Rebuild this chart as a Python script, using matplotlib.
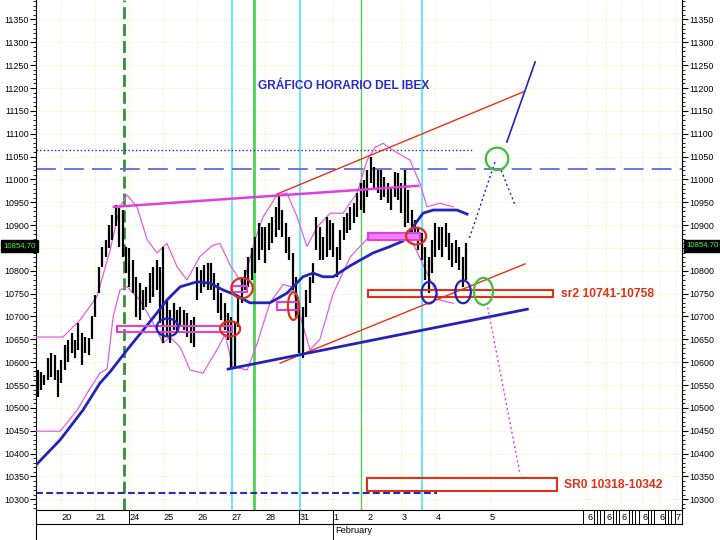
import matplotlib
matplotlib.use('Agg')
import numpy as np
import matplotlib.pyplot as plt
import matplotlib.transforms as mtransforms
from matplotlib.patches import Ellipse, Rectangle
from matplotlib.ticker import MultipleLocator

plt.rcParams['font.family'] = ['Liberation Sans Narrow', 'Liberation Sans', 'DejaVu Sans']

# barras horarias: indice 0 = primera hora del dia 20 (10 barras por sesion)
first_bar = -7
highs = [10583, 10579, 10572, 10609, 10620, 10615, 10583,
         10605, 10638, 10649, 10664, 10649, 10686, 10664, 10655, 10653, 10700,
         10747, 10809, 10853, 10867, 10900, 10922, 10944, 10937, 10933, 10853,
         10850, 10824, 10787, 10773, 10758, 10765, 10795, 10809, 10824, 10809,
         10853, 10736, 10714, 10730, 10714, 10721, 10714, 10708, 10692, 10699,
         10809, 10802, 10813, 10817, 10817, 10795, 10773, 10751, 10730, 10708,
         10699, 10686, 10743, 10787, 10802, 10831, 10850, 10875, 10905, 10896,
         10896, 10905, 10918, 10940, 10966, 10933, 10905, 10875, 10839, 10787,
         10730, 10721, 10758, 10787, 10817, 10918, 10896, 10875, 10918, 10911,
         10905, 10853, 10889, 10918, 10926, 10940, 10948, 10970, 10992, 10999,
         11021, 11049, 11028, 11021, 11021, 11006, 10992, 10984, 11017, 11013,
         10992, 11021, 10977, 10933, 10911, 10896, 10882, 10853, 10831, 10868,
         10905, 10896, 10896, 10905, 10882, 10860, 10868, 10853, 10831, 10860]
lows = [10524, 10539, 10550, 10561, 10567, 10560, 10524,
        10555, 10583, 10600, 10620, 10609, 10627, 10594, 10620, 10616, 10650,
        10699, 10751, 10809, 10831, 10850, 10868, 10897, 10853, 10831, 10795,
        10765, 10751, 10699, 10692, 10714, 10721, 10730, 10743, 10758, 10686,
        10642, 10655, 10642, 10670, 10663, 10677, 10670, 10655, 10642, 10633,
        10736, 10751, 10765, 10758, 10758, 10736, 10708, 10692, 10670, 10648,
        10590, 10590, 10677, 10730, 10758, 10765, 10780, 10795, 10824, 10846,
        10817, 10846, 10861, 10874, 10890, 10874, 10839, 10824, 10758, 10699,
        10620, 10610, 10699, 10730, 10773, 10846, 10824, 10824, 10831, 10846,
        10831, 10787, 10824, 10868, 10883, 10890, 10905, 10918, 10933, 10926,
        10962, 10992, 10977, 10970, 10955, 10962, 10948, 10933, 10962, 10955,
        10926, 10896, 10905, 10883, 10868, 10846, 10824, 10780, 10751, 10795,
        10831, 10846, 10831, 10853, 10824, 10809, 10817, 10802, 10765, 10780]
last_price = 10854.70

# media movil (azul) y bandas de bollinger (rosa)
ma_x = [-7.5, -0.4, 6.3, 11.3, 14.3, 19.3, 24.0, 28.1, 31.0, 34.9, 39.9, 43.7, 47.5,
        51.0, 55.4, 61.3, 66.3, 71.0, 74.0, 76.9, 79.9, 84.9, 91.6, 96.6, 100.4,
        103.4, 106.3, 109.3, 116.3, 119.3]
ma_y = [10375, 10430, 10495, 10554, 10579, 10627, 10670, 10708, 10736, 10765, 10776,
        10773, 10758, 10748, 10730, 10730, 10751, 10787, 10795, 10787, 10787, 10811,
        10839, 10853, 10865, 10896, 10926, 10933, 10933, 10924]
up_x = [-7.5, 0.4, 5.4, 10.4, 14.3, 17.2, 19.3, 22.2, 25.2, 28.1, 31.0, 34.0, 36.9,
        40.7, 44.3, 46.6, 49.6, 53.4, 56.9, 59.3, 63.4, 66.3, 69.3, 72.2, 75.2, 79.0,
        82.8, 86.9, 89.9, 92.2, 94.6, 97.5, 102.5, 105.4, 107.5, 111.3, 115.2]
up_y = [10655, 10655, 10692, 10743, 10845, 10940, 10966, 10940, 10868, 10839, 10860,
        10809, 10780, 10831, 10855, 10860, 10812, 10770, 10868, 10918, 10966, 10970,
        10918, 10853, 10896, 10926, 10926, 10970, 11042, 11070, 11079, 11064, 11042,
        10992, 10940, 10948, 10940]
lo_x = [-7.5, -0.4, 4.6, 7.5, 11.3, 13.4, 15.2, 17.2, 19.3, 23.1, 26.9, 29.9, 31.9,
        34.9, 37.8, 41.6, 45.7, 48.1, 50.4, 54.6, 57.5, 61.3, 65.2, 67.8, 70.2, 73.1,
        76.0, 79.9, 84.9, 89.9, 94.6, 99.6, 103.4, 107.5, 111.3, 115.2]
lo_y = [10449, 10449, 10495, 10532, 10576, 10585, 10700, 10758, 10765, 10736, 10686,
        10642, 10655, 10633, 10583, 10576, 10627, 10660, 10590, 10583, 10640, 10730,
        10770, 10765, 10700, 10627, 10650, 10750, 10830, 10870, 10880, 10880, 10860,
        10795, 10736, 10729]

# niveles y lineas dibujadas
res_dotted = 11065
res_dashed = 11022
sup_dashed = 10314
magenta_line = ([15.4, 104.9], [10940, 10986])
red_upper = ([63.4, 136.0], [10968, 11192])
red_lower = ([64.3, 136.3], [10598, 10815])
blue_support = ([49.0, 137.0], [10585, 10716])
blue_proj = ([131.0, 139.3], [11082, 11257])
blue_dot_up = ([120.0, 127.5], [10872, 11038])
blue_dot_down = ([129.3, 133.4], [11020, 10944])
pink_dot = ([125.1, 134.9], [10730, 10353])

# circulos: (x, precio, ancho, alto, color)
ellipses = [(31.2, 10676, 6.4, 39, '#2323b8'),
            (49.6, 10673, 5.9, 33, '#e03018'),
            (53.1, 10762, 6.3, 44, '#e03018'),
            (68.2, 10723, 3.2, 61, '#e03018'),
            (104.3, 10876, 5.9, 37, '#e03018'),
            (108.1, 10752, 4.4, 47, '#2323b8'),
            (118.1, 10754, 4.6, 50, '#2323b8'),
            (124.1, 10755, 5.6, 59, '#3cc03c'),
            (128.1, 11045, 6.6, 49, '#3cc03c')]

# cajas: (x0, x1, p0, p1)
pink_boxes = [(16.3, 50.1, 10665, 10679), (50.1, 54.5, 10753, 10767),
              (63.3, 69.6, 10714, 10732)]
pink_filled = (90.1, 105.4, 10867, 10882)
sr2_box = (90.1, 144.6, 10742, 10759)
sr0_box = (90.0, 145.7, 10318, 10346)

cyan_lines = [50.2, 70.2, 106.0]
green_lines = [(56.6, 2.0), (88.1, 1.0)]
green_dashed = 18.4

day_pos = [0, 10, 20, 30, 40, 50, 60, 70, 80, 90, 100, 110, 126,
           154.7, 160.2, 164.7, 170.8, 175.8, 180.6]
day_lab = ['20', '21', '24', '25', '26', '27', '28', '31', '1', '2', '3', '4', '5',
           '6', '6', '6', '6', '6', '7']
separators = [19.9, 69.8, 80.0, 153.4, 156.6, 157.5, 158.4, 159.6, 162.3, 163.2, 164.1,
              166.8, 167.7, 168.6, 169.8, 172.6, 173.5, 174.4, 177.4, 178.3, 179.2, 180.3]

fig = plt.figure(figsize=(7.2, 5.4), dpi=100)
ax = fig.add_axes([0.05, 0.0556, 0.8972, 0.9444])
ax.set_xlim(-7.5, 182.5)
ax.set_ylim(10276.6, 11392.6)

ax.yaxis.set_major_locator(MultipleLocator(50))
ax.yaxis.set_minor_locator(MultipleLocator(10))
ax.grid(which='major', axis='both', color='#ecec9a', ls=':', lw=0.6)
ax.set_axisbelow(True)

# lineas verticales
for xc in cyan_lines:
    ax.axvline(xc, color='#6fe6f6', lw=1.5, zorder=1)
for xg, lw in green_lines:
    ax.axvline(xg, color='#4fd24f', lw=lw, zorder=1)
ax.axvline(green_dashed, color='#3a8c3a', lw=2, dashes=(4.3, 1.8), zorder=1)

# niveles horizontales
ax.plot([-7.5, 120.7], [res_dotted] * 2, color='#2323b8', lw=1, ls=':', zorder=2)
ax.axhline(res_dashed, color='#5c6ce0', lw=1.3, dashes=(11, 4.5), zorder=2)
ax.plot([-7.5, 110.4], [sup_dashed] * 2, color='#2030b0', lw=1.5, dashes=(3.3, 1.6), zorder=2)

# bandas
ax.plot(up_x, up_y, color='#e060e0', lw=0.9, zorder=3)
ax.plot(lo_x, lo_y, color='#e060e0', lw=0.9, zorder=3)

# barras
bar_x = np.arange(first_bar, first_bar + len(highs))
ax.vlines(bar_x, lows, highs, color='black', lw=1.6, zorder=4)

ax.plot(ma_x, ma_y, color='#2323b8', lw=2, zorder=5)

# lineas de tendencia
ax.plot(*magenta_line, color='#e040e0', lw=1.8, zorder=5)
ax.plot(*red_upper, color='#e83018', lw=1, zorder=5)
ax.plot(*red_lower, color='#e83018', lw=1, zorder=5)
ax.plot(*blue_support, color='#2323b8', lw=2, zorder=5)
ax.plot(*blue_proj, color='#2323b8', lw=1.2, zorder=5)
ax.plot(*blue_dot_up, color='#2323b8', lw=1, ls=(0, (1.5, 2)), zorder=5)
ax.plot(*blue_dot_down, color='#2323b8', lw=1, ls=(0, (1.5, 2)), zorder=5)
ax.plot(*pink_dot, color='#e040e0', lw=1, ls=(0, (1.5, 2)), zorder=5)

# cajas
for x0, x1, p0, p1 in pink_boxes:
    ax.add_patch(Rectangle((x0, p0), x1 - x0, p1 - p0, fill=False,
                           ec='#e040e0', lw=1.5, zorder=6))
x0, x1, p0, p1 = pink_filled
ax.add_patch(Rectangle((x0, p0), x1 - x0, p1 - p0, fc='#f080f0', ec='#e040e0',
                       lw=1.5, zorder=6))
for x0, x1, p0, p1 in [sr2_box, sr0_box]:
    ax.add_patch(Rectangle((x0, p0), x1 - x0, p1 - p0, fill=False,
                           ec='#e03018', lw=1.5, zorder=6))

for xe, pe, we, he, col in ellipses:
    ax.add_patch(Ellipse((xe, pe), we, he, fill=False, ec=col, lw=1.6, zorder=7))

# textos
ax.text(57.8, 11204, 'GRÁFICO HORARIO DEL IBEX', color='#2a2ac8', fontsize=8.6,
        fontweight='bold', ha='left', va='center', zorder=8)
ax.text(146.9, 10750, 'sr2 10741-10758', color='#e03018', fontsize=8.7,
        fontweight='bold', ha='left', va='center', zorder=8)
ax.text(147.8, 10331, 'SR0 10318-10342', color='#e03018', fontsize=8.7,
        fontweight='bold', ha='left', va='center', zorder=8)

# ejes
yt = np.arange(10300, 11351, 50)
ax.set_yticks(yt)
ax.set_yticklabels(['' if v == 10850 else str(v) for v in yt])
ax.tick_params(axis='y', which='major', left=True, right=True, labelleft=True,
               labelright=True, direction='out', length=4, width=0.8, labelsize=6.4, pad=1)
ax.tick_params(axis='y', which='minor', left=True, right=True, direction='out',
               length=2, width=0.6)
ax.set_xticks(day_pos)
ax.set_xticklabels(day_lab)
for lab in ax.get_xticklabels():
    lab.set_ha('left')
ax.tick_params(axis='x', length=0, labelsize=6.6, pad=2)
ax.spines['top'].set_visible(False)
for s in ['left', 'right', 'bottom']:
    ax.spines[s].set_linewidth(0.8)

trans = mtransforms.blended_transform_factory(ax.transData, ax.transAxes)
for xs in separators:
    ax.plot([xs, xs], [0, -0.028], transform=trans, color='black', lw=0.7, clip_on=False)
ax.plot([80.0, 80.0], [0, -0.06], transform=trans, color='black', lw=0.7, clip_on=False)
ax.plot([0, 1], [-0.028, -0.028], transform=ax.transAxes, color='black', lw=0.8,
        clip_on=False)
ax.plot([0, 0], [0, -0.06], transform=ax.transAxes, color='black', lw=0.8, clip_on=False)
ax.plot([1, 1], [0, -0.028], transform=ax.transAxes, color='black', lw=0.8, clip_on=False)
ax.text(80.6, -0.041, 'February', transform=trans, fontsize=6.6, ha='left', va='center')

# etiquetas del ultimo precio
y_last = ax.transData.transform((0, last_price))[1] / fig.bbox.height
fig.text(0.9535, y_last, '{:.2f}'.format(last_price), color='#40ff40', fontsize=5.6,
         ha='left', va='center',
         bbox=dict(boxstyle='square,pad=0.3', fc='black', ec='black'))
fig.text(0.004, y_last, '{:.2f}'.format(last_price).replace('.', ','), color='#40ff40',
         fontsize=5.6, ha='left', va='center',
         bbox=dict(boxstyle='square,pad=0.3', fc='black', ec='black'))

fig.savefig('out.png', dpi=100)
